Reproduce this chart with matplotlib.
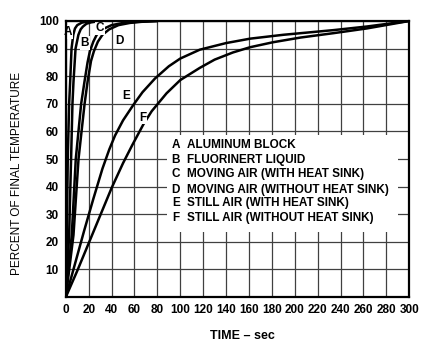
import numpy as np
import matplotlib.pyplot as plt

plt.rcParams['font.family'] = ['Liberation Sans', 'DejaVu Sans']

# temps (s) / pourcentage de la température finale pour chaque courbe
a_t = [0, 0.9, 1.7, 2.9, 3.8, 5, 6.5, 8, 10, 14, 19, 25]
a_p = [0, 22.5, 50, 70, 78, 90, 95, 97.3, 98.5, 99.4, 99.8, 100]
b_t = [0, 2.9, 4.6, 5.8, 6.7, 8.5, 11, 13, 15, 18, 22, 30]
b_p = [0, 22.5, 50, 70, 78, 90, 95, 97, 98, 99, 99.5, 100]
c_t = [0, 5.2, 8.7, 13.4, 16.3, 19, 21, 24, 27, 32, 40, 50, 62, 80]
c_p = [0, 22.5, 50, 70, 78, 85, 89, 92.5, 95, 97, 98.5, 99.3, 99.7, 100]
d_t = [0, 6.7, 11.1, 16.4, 19, 22, 24.5, 28, 32, 38, 46, 56, 66, 80]
d_p = [0, 22.5, 50, 70, 78, 85.5, 89, 92.5, 95, 97, 98.5, 99.3, 99.7, 100]
e_t = [0, 8, 16, 24, 32, 38, 43, 50, 59, 67, 78, 90, 100, 117, 140, 161, 190, 234, 263, 300]
e_p = [0, 12, 24, 35.5, 46.5, 53.5, 58.5, 64, 69.6, 74.2, 79.2, 83.6, 86.4, 89.6, 92, 93.6, 95, 96.7, 98, 100]
f_t = [0, 10, 20, 30, 40, 50, 58, 67.7, 75, 88, 100, 117, 130, 146, 161, 181, 205, 234, 263, 300]
f_p = [0, 9.5, 19.5, 29.5, 39.5, 48.5, 55, 62.5, 67.3, 73.8, 78.6, 83, 86, 88.6, 90.5, 92.3, 94, 95.6, 97.3, 100]

curves = [(a_t, a_p), (b_t, b_p), (c_t, c_p), (d_t, d_p), (e_t, e_p), (f_t, f_p)]

# lettres posées à côté des courbes
lettres = ['A', 'B', 'C', 'D', 'E', 'F']
lettre_x = [1.8, 16.6, 30, 47, 53, 67.5]
lettre_y = [96, 92, 97.5, 92.8, 73, 65]

legende = ['ALUMINUM BLOCK', 'FLUORINERT LIQUID', 'MOVING AIR (WITH HEAT SINK)',
           'MOVING AIR (WITHOUT HEAT SINK)', 'STILL AIR (WITH HEAT SINK)',
           'STILL AIR (WITHOUT HEAT SINK)']

fig = plt.figure(figsize=(4.33, 3.47), dpi=100)
ax = fig.add_axes([0.152, 0.144, 0.793, 0.7955])

ax.set_xlim(0, 300)
ax.set_ylim(0, 100)
ax.set_xticks(np.arange(0, 301, 20))
ax.set_yticks(np.arange(0, 101, 10))
ax.set_yticklabels([''] + [str(v) for v in range(10, 101, 10)])
ax.tick_params(length=0, labelsize=8.5, pad=5)
for lab in ax.get_xticklabels() + ax.get_yticklabels():
    lab.set_fontweight('bold')
ax.grid(True, color='#404040', linewidth=0.9)
ax.set_axisbelow(True)
for s in ax.spines.values():
    s.set_linewidth(1.6)
    s.set_zorder(5)

# cadre blanc de la légende, par dessus la grille
ax.fill_between([88, 290], 23.5, 58.7, color='white', zorder=1.5, linewidth=0)

for t, p in curves:
    ax.plot(t, p, color='black', linewidth=1.8, zorder=3,
            solid_capstyle='round', solid_joinstyle='round')

for l, x, y in zip(lettres, lettre_x, lettre_y):
    ax.text(x, y, l, fontsize=8.5, fontweight='bold', ha='center', va='center', zorder=4,
            bbox=dict(facecolor='white', edgecolor='none', pad=0.5))

leg_y = [55, 49.5, 44.7, 38.9, 34.1, 28.8]
for l, txt, y in zip(lettres, legende, leg_y):
    ax.text(96, y, l, fontsize=8.5, fontweight='bold', ha='center', va='center', zorder=4)
    ax.text(106, y, txt, fontsize=8.5, fontweight='bold', ha='left', va='center', zorder=4)

ax.set_xlabel('TIME – sec', fontsize=9, fontweight='bold')
ax.xaxis.set_label_coords(0.515, -0.12)
ax.set_ylabel('PERCENT OF FINAL TEMPERATURE', fontsize=8.5)
ax.yaxis.set_label_coords(-0.125, 0.447)

plt.savefig('out.png', dpi=100)
